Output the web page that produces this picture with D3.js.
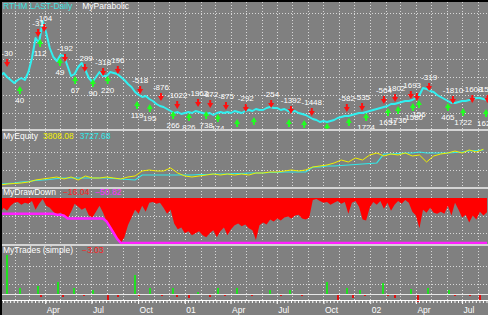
<!DOCTYPE html>
<html>
<head>
<meta charset="utf-8">
<script src="https://cdn.jsdelivr.net/npm/d3@7"></script>
<style>
html, body { margin: 0; padding: 0; background: #808080; overflow: hidden; }
svg { display: block; }
text { font-family: "Liberation Sans", Arial, sans-serif; font-size: 8px; }
</style>
</head>
<body>
<div id="chart"></div>
<script>
var W = 488, H = 315;

// weekly closes, first week 2000-01-03
var priceStart = "2000-01-03";
var weeklyClose = [30, 31.5, 29.5, 28, 26.5, 28, 29, 28, 32, 39,
	49, 46.5, 57.5, 51.5, 44, 39.5, 37.5, 40.5, 40, 35,
	30, 31, 34.5, 36.5, 33, 29, 27, 29.5, 32, 30,
	30, 32, 31.5, 31, 29.5, 28, 26, 24.5, 22, 20.5,
	19.5, 20, 18.5, 17.5, 16, 15, 14.5, 13.5, 12.5, 11.5,
	12, 11, 11.5, 12, 11.5, 12.5, 12, 11.5, 11, 11.5,
	10.5, 11.5, 12, 11.5, 12, 11.5, 12.5, 12, 11.5, 12.5,
	13, 12.5, 13.5, 13, 13, 14, 14.5, 14, 14, 13,
	13.5, 12.5, 12, 12.5, 11.5, 11, 10.5, 9.5, 8.5, 8,
	7, 7.5, 7, 7.5, 8, 9, 9.5, 10, 10, 10.5,
	11, 11.5, 11.5, 12, 12.5, 13, 13.5, 14, 14.5, 15,
	16, 16, 16.5, 17, 17.5, 17.5, 18, 19, 20.5, 24,
	23.5, 22.5, 22, 20.5, 19.5, 18.5, 17.5, 16.5, 16.5, 17,
	17.5, 17.5, 18, 18.5, 19, 19, 18.5, 18];

// parabolic signals
var sellDates = ["2000-01-17","2000-03-18","2000-03-30","2000-05-10","2000-06-18","2000-07-24","2000-08-22","2000-10-05","2000-11-15","2000-12-17",
	"2001-01-27","2001-02-20","2001-03-23","2001-05-01","2001-06-20","2001-07-29","2001-09-08","2001-11-16","2001-12-16","2002-01-28",
	"2002-02-19","2002-03-22","2002-04-03","2002-04-27","2002-06-13","2002-07-21","2002-08-20"];
var sellPrices = [36.5, 51.5, 54, 39, 34, 32, 33, 23, 19.5, 15.5,
	16.5, 16, 15, 14, 16, 13, 12, 14, 14.5, 18,
	19, 20.5, 19.5, 24.5, 18, 18.5, 18.5];
var sellLabels = ["-30","-31","-104","-192","-299","-318","196","-518","-876","-1022",
	"-1962","-872","-875","-292","-254","-1392","-1448","-582","-535","-564",
	"-1802","-1693","","-319","-1810","-1608","-1590"];

var buyDates = ["2000-02-11","2000-03-22","2000-04-30","2000-05-30","2000-07-04","2000-08-02","2000-09-29","2000-10-24","2000-12-09","2001-01-09",
	"2001-02-12","2001-03-07","2001-04-14","2001-05-17","2001-07-25","2001-08-24","2001-10-08","2001-11-20","2001-12-24","2002-02-05",
	"2002-02-25","2002-03-26","2002-04-07","2002-06-03","2002-07-03","2002-08-17"];
var buyPrices = [23, 46.5, 37, 28, 26.5, 28, 15.5, 14, 10.5, 9.5,
	10.5, 9, 6.5, 7.5, 6.5, 6, 4.5, 7, 9.5, 12,
	13, 14.5, 16, 14.5, 12, 11.5];
var buyLabels = ["40","112","49","67","90","220","119","195","266","826",
	"738","174","-968","-1230","-1316","-1402","-1470","-1551","1724","1651",
	"1736","-1580","156","405","1722","1620"];

// equity, every 2 weeks from priceStart
var equityA = [104, 207, 259, 311, 414, 621, 725, 828, 932, 725,
	932, 621, 1036, 828, 828, 932, 828, 725, 932, 1036,
	1553, 1657, 1553, 1553, 1864, 1346, 1036, 932, 1036, 1139,
	1243, 1139, 1243, 1139, 1243, 1139, 1346, 1346, 1450, 1450,
	1553, 1657, 1553, 1657, 1967, 2071, 2175, 2382, 2692, 2485,
	2899, 2692, 3210, 3417, 3107, 3314, 3210, 3417, 3107, 3210,
	2485, 3107, 3314, 3417, 3624, 3417, 3728, 3521, 3808.08];
var equityB = [207, 259, 311, 414, 466, 570, 621, 673, 777, 828,
	828, 828, 828, 828, 828, 828, 777, 725, 673, 621,
	1139, 1139, 1139, 1139, 1139, 1139, 1139, 1139, 1191, 1191,
	1243, 1243, 1243, 1294, 1294, 1346, 1346, 1346, 1398, 1398,
	1450, 1450, 1450, 1450, 1967, 1967, 2071, 2071, 2123, 2175,
	2226, 2278, 2330, 2382, 3314, 3314, 3365, 3417, 3417, 3521,
	3417, 3417, 3417, 3417, 3469, 3521, 3624, 3676, 3727.68];

// weekly drawdown (%)
var drawDown = [-17.7, -11.1, -14.4, -8.8, -5.5, -4.4, -7.7, -5.5, -6.6, -3.3,
	-13.3, -6.6, -1.1, -8.8, -11.1, -15.5, -18.8, -16.6, -19.9, -23.2,
	-15.5, -6.6, -9.9, -13.3, -11.1, -19.9, -22.1, -15.5, -8.8, -16.6,
	-26.5, -33.2, -39.8, -46.4, -50.82, -44.2, -30.9, -22.1, -13.3, -17.7,
	-8.8, -15.5, -5.5, -4.4, -6.6, -5.5, -11.1, -17.7, -13.3, -28.7,
	-35.4, -33.2, -39.8, -37.6, -42, -39.8, -37.6, -42, -44.2, -39.8,
	-36.5, -44.2, -37.6, -33.2, -42, -35.4, -30.9, -28.7, -32, -29.8,
	-34.3, -36.5, -47.5, -30.9, -27.6, -29.8, -24.3, -26.5, -23.2, -25.4,
	-22.1, -21, -23.2, -19.9, -18.8, -23.2, -24.3, -22.1, -2.2, -1.1,
	-3.3, -5.5, -4.4, -7.7, -5.5, -3.3, -6.6, -4.4, -17.7, -5.5,
	-3.3, -9.9, -24.3, -25.4, -11.1, -4.4, -7.7, -3.3, -12.2, -5.5,
	-14.4, -7.7, -3.3, -6.6, -2.2, -5.5, -15.5, -19.9, -34.3, -13.3,
	-16.6, -11.1, -16.6, -17.7, -15.5, -17.7, -8.8, -19.9, -5.5, -13.3,
	-22.1, -18.8, -27.6, -19.9, -24.3, -15.5, -19.9, -16.04];

// closed trades (%)
var tradeDates = ["2000-01-17","2000-02-11","2000-03-18","2000-03-24","2000-04-26","2000-05-07","2000-05-28","2000-06-16","2000-07-04","2000-08-02",
	"2000-08-22","2000-09-25","2000-10-03","2000-10-24","2000-11-17","2000-12-09","2000-12-17","2001-01-09","2001-01-27","2001-02-20",
	"2001-03-07","2001-03-21","2001-04-14","2001-05-13","2001-06-18","2001-07-09","2001-07-27","2001-08-20","2001-10-08","2001-10-30",
	"2001-11-16","2001-11-28","2001-12-12","2001-12-22","2002-01-26","2002-02-05","2002-02-19","2002-03-22","2002-04-05","2002-04-25",
	"2002-06-05","2002-06-17","2002-07-17","2002-08-05"];
var tradeValues = [19.5, 3, 4, -1.5, 6, -1.5, 3, -1, 2, -3,
	-1.5, 9.5, -1, 3, -1, 3, -1.5, -2, 1, -1.5,
	3, -1, 3, -1, 2, -1, 2, -1, 6, -3,
	3, -2, 2, -1, 5.5, -1, -2, 2.5, -4, 3,
	2, -1, -1, -3.03];

var priceGrid = [61.5, 47, 38.5, 29.5, 20.5, 11.5];
var equityGrid = [1650, 3520];
var ddGrid = [-20, -40];
var tradeGrid = [5, 14];

var parse = d3.timeParse("%Y-%m-%d");
var t0 = parse(priceStart);

var svg = d3.select("#chart").append("svg")
	.attr("width", W)
	.attr("height", H);

svg.append("rect")
	.attr("width", W)
	.attr("height", H)
	.attr("fill", "#808080");

var x = d3.scaleTime()
	.domain([t0, parse("2002-08-21")])
	.range([0, W]);

var yPrice = d3.scaleLinear().domain([3, 67]).range([130, 2]);
var yEq = d3.scaleLinear().domain([0, 5695]).range([186, 131]);
var yDD = d3.scaleLinear().domain([0, -50.82]).range([198, 243]);
var yTr = d3.scaleLinear().domain([-10, 24.5]).range([314, 245]);

var weeks = weeklyClose.map(function(d, i) { return d3.timeWeek.offset(t0, i); });

// vertical month grid
var months = d3.timeMonth.range(t0, x.domain()[1]);
svg.append("g").selectAll("line")
	.data(months)
	.join("line")
	.attr("x1", function(d) { return Math.round(x(d)) + 0.5; })
	.attr("x2", function(d) { return Math.round(x(d)) + 0.5; })
	.attr("y1", 2)
	.attr("y2", 300)
	.attr("stroke", "#d8d8d8")
	.attr("stroke-dasharray", "1,2");

function hgrid(vals, scale) {
	svg.append("g").selectAll("line")
		.data(vals)
		.join("line")
		.attr("x1", 0)
		.attr("x2", W)
		.attr("y1", function(d) { return Math.round(scale(d)) + 0.5; })
		.attr("y2", function(d) { return Math.round(scale(d)) + 0.5; })
		.attr("stroke", "#d8d8d8")
		.attr("stroke-dasharray", "1,2");
}
hgrid(priceGrid, yPrice);
hgrid(equityGrid, yEq);
hgrid(ddGrid, yDD);
hgrid(tradeGrid, yTr);

// ---- price panel
svg.append("clipPath").attr("id", "clipPrice")
	.append("rect").attr("x", 0).attr("y", 2).attr("width", W).attr("height", 128);
var gP = svg.append("g").attr("clip-path", "url(#clipPrice)");

gP.append("path")
	.datum(weeklyClose)
	.attr("fill", "none")
	.attr("stroke", "#30f0f0")
	.attr("stroke-width", 2)
	.attr("stroke-linejoin", "round")
	.attr("d", d3.line()
		.x(function(d, i) { return x(weeks[i]); })
		.y(function(d) { return yPrice(d); }));

function downArrow(cx, cy) {
	return "M" + (cx - 1) + "," + (cy - 4) + "h2v3h2l-3,5l-3,-5h2z";
}
function upArrow(cx, cy) {
	return "M" + (cx - 1) + "," + (cy + 4) + "h2v-3h2l-3,-5l-3,5h2z";
}

gP.append("g").selectAll("path")
	.data(sellDates)
	.join("path")
	.attr("fill", "#ff1010")
	.attr("d", function(d, i) { return downArrow(x(parse(d)), yPrice(sellPrices[i])); });

gP.append("g").selectAll("path")
	.data(buyDates)
	.join("path")
	.attr("fill", "#20ff20")
	.attr("d", function(d, i) { return upArrow(x(parse(d)), yPrice(buyPrices[i])); });

gP.append("g").selectAll("text")
	.data(sellDates)
	.join("text")
	.attr("x", function(d) { return x(parse(d)); })
	.attr("y", function(d, i) { return yPrice(sellPrices[i]) - 7; })
	.attr("text-anchor", "middle")
	.attr("fill", "#ffffff")
	.text(function(d, i) { return sellLabels[i]; });

gP.append("g").selectAll("text")
	.data(buyDates)
	.join("text")
	.attr("x", function(d) { return x(parse(d)); })
	.attr("y", function(d, i) { return yPrice(buyPrices[i]) + 13; })
	.attr("text-anchor", "middle")
	.attr("fill", "#ffffff")
	.text(function(d, i) { return buyLabels[i]; });

// ---- equity panel
var eqLine = d3.line()
	.x(function(d, i) { return x(d3.timeWeek.offset(t0, i * 2)); })
	.y(function(d) { return yEq(d); });

svg.append("path").datum(equityB)
	.attr("fill", "none").attr("stroke", "#30e8e8").attr("stroke-width", 1.2)
	.attr("d", eqLine);
svg.append("path").datum(equityA)
	.attr("fill", "none").attr("stroke", "#f0f000").attr("stroke-width", 1)
	.attr("d", eqLine);

// ---- drawdown panel
svg.append("path").datum(drawDown)
	.attr("fill", "#ff0000")
	.attr("d", d3.area()
		.x(function(d, i) { return x(weeks[i]); })
		.y0(yDD(0))
		.y1(function(d) { return yDD(d); }));

var maxDD = [];
drawDown.reduce(function(m, d) { m = Math.min(m, d); maxDD.push(m); return m; }, 0);

svg.append("path").datum(maxDD)
	.attr("fill", "none")
	.attr("stroke", "#ff20ff")
	.attr("stroke-width", 2.5)
	.attr("d", d3.line()
		.x(function(d, i) { return x(weeks[i]); })
		.y(function(d) { return yDD(d); }));

// ---- trades panel
svg.append("g").selectAll("rect")
	.data(tradeDates)
	.join("rect")
	.attr("x", function(d) { return Math.round(x(parse(d))) - 1; })
	.attr("width", 2)
	.attr("y", function(d, i) { return Math.min(yTr(0), yTr(tradeValues[i])); })
	.attr("height", function(d, i) { return Math.abs(yTr(tradeValues[i]) - yTr(0)); })
	.attr("fill", function(d, i) { return tradeValues[i] >= 0 ? "#20e020" : "#e01010"; });

svg.append("line")
	.attr("x1", 0).attr("x2", W)
	.attr("y1", yTr(0) + 0.5).attr("y2", yTr(0) + 0.5)
	.attr("stroke", "#e8e8e8");

// panel separators
svg.append("g").selectAll("line")
	.data([130, 188, 245])
	.join("line")
	.attr("x1", 0).attr("x2", W)
	.attr("y1", function(d) { return d; })
	.attr("y2", function(d) { return d; })
	.attr("stroke", "#d4d4d4")
	.attr("stroke-width", 2);

// ---- time axis
var axisY = 300;
svg.append("g")
	.attr("transform", "translate(0," + axisY + ")")
	.call(d3.axisBottom(x)
		.tickValues(d3.timeWeek.range(t0, x.domain()[1]))
		.tickSize(3)
		.tickFormat(""))
	.call(function(g) {
		g.select(".domain").attr("stroke", "#ffffff");
		g.selectAll(".tick line").attr("stroke", "#ffffff");
	});

var quarters = d3.timeMonth.every(3).range(t0, x.domain()[1]);
var qfmt = function(d) { return d.getMonth() === 0 ? d3.timeFormat("%y")(d) : d3.timeFormat("%b")(d); };
svg.append("g")
	.attr("transform", "translate(0," + axisY + ")")
	.call(d3.axisBottom(x)
		.tickValues(quarters)
		.tickSize(4)
		.tickPadding(3)
		.tickFormat(qfmt))
	.call(function(g) {
		g.select(".domain").remove();
		g.selectAll(".tick line").attr("stroke", "#ffffff");
		g.selectAll(".tick text")
			.attr("fill", "#ffffff")
			.attr("text-anchor", "start")
			.attr("x", 1)
			.style("font-family", "\"Liberation Sans\", Arial, sans-serif")
			.style("font-size", "8.5px");
	});

// frame
svg.append("rect").attr("x", 0).attr("y", 0).attr("width", W).attr("height", 2).attr("fill", "#000");
svg.append("rect").attr("x", 0).attr("y", 0).attr("width", 2).attr("height", H).attr("fill", "#000");

// ---- panel titles
function title(yy, parts) {
	var t = svg.append("text").attr("x", 3).attr("y", yy).style("font-size", "8.5px");
	parts.forEach(function(p) {
		t.append("tspan").attr("fill", p[1]).attr("dx", p[2] || 0).text(p[0]);
	});
}
title(9, [["RTHM LAST-Daily", "#40e0e0"], ["MyParabolic", "#ffffff", 10]]);
title(139, [["MyEquity", "#ffffff"], [d3.format(".2f")(equityA[equityA.length - 1]), "#f0f000", 5], [d3.format(".2f")(equityB[equityB.length - 1]), "#30e8e8", 6]]);
title(195, [["MyDrawDown", "#ffffff"], [d3.format(".2f")(drawDown[drawDown.length - 1]), "#ff2020", 7], [d3.format(".2f")(d3.min(drawDown)), "#ff30ff", 6]]);
title(253, [["MyTrades (simple)", "#ffffff"], [d3.format(".2f")(tradeValues[tradeValues.length - 1]), "#ff2020", 9]]);
</script>
</body>
</html>
